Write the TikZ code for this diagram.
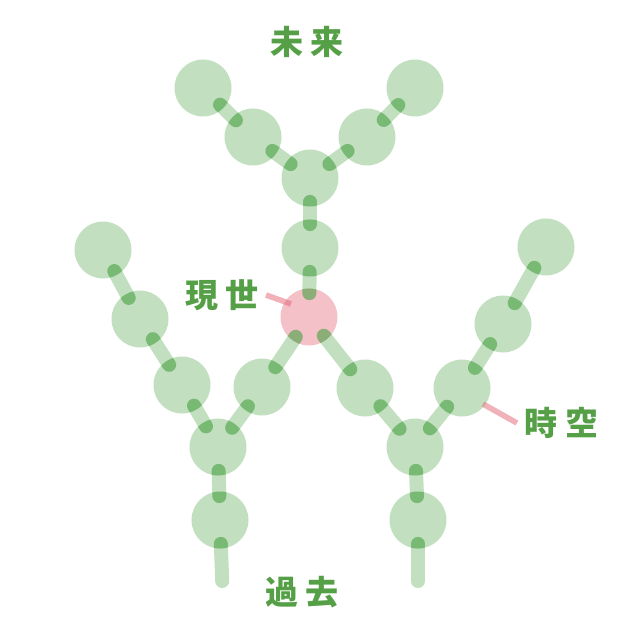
\documentclass[tikz,border=0pt]{standalone}
\usepackage{fontspec}
\newfontfamily\jpfont{Noto Sans CJK JP}
\usepackage{tikz}

\definecolor{leaf}{RGB}{70,160,65}
\definecolor{ink}{RGB}{85,160,70}
\definecolor{rose}{RGB}{225,100,115}

\begin{document}
\begin{tikzpicture}[x=0.5pt,y=-0.5pt,
  bead/.style={circle,inner sep=0pt,minimum size=28.5pt,fill=leaf,fill opacity=0.33},
  now/.style={bead,fill=rose,fill opacity=0.4},
  link/.style={draw=leaf,draw opacity=0.33,line width=7pt,line cap=round,
    shorten >=-2.5pt,shorten <=-2.5pt},
  lead/.style={draw=rose,draw opacity=0.5,line width=2.8pt},
  word/.style={text=ink,font=\jpfont\bfseries\fontsize{16.5pt}{17pt}\selectfont}]

\useasboundingbox (0,0) rectangle (640,640);

%Define gap between the two characters of a label
\def\gap{\hspace{4pt}}
%Define the links (from/to)
\def\links{f1/f2, f2/f3, f5/f4, f4/f3, f3/f6, f6/here,
  here/l4, l4/l5, l1/l2, l2/l3, l3/l5, l5/l6, l6/lend,
  here/r1, r1/r2, r5/r4, r4/r3, r3/r2, r2/r6, r6/rend}

% Future branch (top)
\node[bead] (f1) at (203,88)  {};
\node[bead] (f2) at (253,137) {};
\node[bead] (f3) at (310,178) {};
\node[bead] (f4) at (367,137) {};
\node[bead] (f5) at (415,88)  {};
\node[bead] (f6) at (310,248) {};

% Present
\node[now] (here) at (309,317) {};

% Left past branch
\node[bead] (l1) at (103,250) {};
\node[bead] (l2) at (140,319) {};
\node[bead] (l3) at (182,385) {};
\node[bead] (l4) at (262,387) {};
\node[bead] (l5) at (218,447) {};
\node[bead] (l6) at (220,520) {};
\coordinate (lend) at (222,576);

% Right past branch
\node[bead] (r1) at (365,388) {};
\node[bead] (r2) at (415,447) {};
\node[bead] (r3) at (462,388) {};
\node[bead] (r4) at (503,324) {};
\node[bead] (r5) at (546,247) {};
\node[bead] (r6) at (418,520) {};
\coordinate (rend) at (418,576);

% Links
\foreach \a/\b in \links
  \draw[link] (\a) -- (\b);

% Darker where a link enters a bead
\begin{scope}
  \clip \foreach \n in {f1,f2,f3,f4,f5,f6,here,l1,l2,l3,l4,l5,l6,r1,r2,r3,r4,r5,r6}
    {(\n.center) circle (14.25pt)};
  \foreach \a/\b in \links
    \draw[link,draw opacity=0.4] (\a) -- (\b);
\end{scope}

% Labels
\node[word] (future)  at (307,42)  {未\gap 来};
\node[word] (present) at (222,295) {現\gap 世};
\node[word] (space)   at (561,423) {時\gap 空};
\node[word] (past)    at (302,592) {過\gap 去};

% Leaders
\coordinate (pin1) at (291,304);
\coordinate (pin2) at (483,404);
\draw[lead] (present.east) -- (pin1);
\draw[lead] (space.west) -- (pin2);

\end{tikzpicture}
\end{document}
